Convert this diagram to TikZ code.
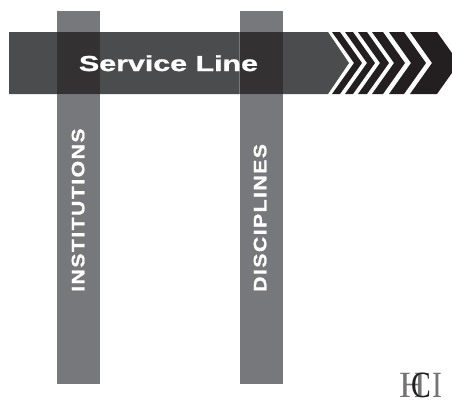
\documentclass[tikz,border=0pt]{standalone}
\usepackage{fontspec}
\newfontfamily\linefont{Liberation Sans Bold}[FakeStretch=1.4,FakeBold=1.2]
\newfontfamily\barfont{Liberation Sans Bold}[FakeStretch=1.18,FakeBold=1,LetterSpace=8]
\newfontfamily\logofont{Liberation Serif}[FakeStretch=0.8]
\newfontfamily\logowidefont{Liberation Serif}
\definecolor{barcol}{HTML}{77787B}
\definecolor{linecol}{HTML}{4B4C4E}
\definecolor{crosscol}{HTML}{333132}
\definecolor{arrowcol}{HTML}{231F20}
\begin{document}
\begin{tikzpicture}[
  x=1pt,
  y=-1pt,
  line join=miter,
  barlabel/.style={
    rotate=90,
    anchor=base west,
    text=white,
    inner sep=0pt,
    font=\barfont\fontsize{18}{18}\selectfont
  },
  logoletter/.style={
    anchor=base,
    inner sep=0pt,
    font=\logofont\fontsize{37}{37}\selectfont
  }
]
  \def\bartop{11}
  \def\barbottom{384}
  \def\linetop{32}
  \def\linemid{63}
  \def\linebottom{94}
  \def\tipwidth{22}

  \useasboundingbox (0,0) rectangle (452,400);

  % Vertical bars
  \fill[barcol] (57,\bartop) rectangle (100,\barbottom);
  \fill[barcol] (240,\bartop) rectangle (283,\barbottom);

  % Horizontal line with notched end
  \fill[linecol]
    (9,\linetop) -- (328,\linetop) -- (349,\linemid)
    -- (328,\linebottom) -- (9,\linebottom) -- cycle;

  % Crossings
  \fill[crosscol] (57,\linetop) rectangle (100,\linebottom);
  \fill[crosscol] (240,\linetop) rectangle (283,\linebottom);
  \draw[barcol,line width=0.6pt] (239.5,\linetop) -- (239.5,\linebottom);

  % Chevrons
  \begin{scope}
    \clip (320,\linetop) rectangle (452,\linebottom);
    \foreach \xa/\xb in {332/340,345/353,358/367,372/383,389/404,410/437} {
      \fill[arrowcol]
        (\xa,\linetop) -- (\xb,\linetop) -- (\xb+\tipwidth,\linemid)
        -- (\xb,\linebottom) -- (\xa,\linebottom)
        -- (\xa+\tipwidth,\linemid) -- cycle;
    }
  \end{scope}

  % Labels
  \node[anchor=base,text=white,inner sep=0pt,font=\linefont\fontsize{21.7}{21.7}\selectfont]
    (service) at (168.5,71) {Service Line};
  \node[barlabel] (institutions) at (84.3,292) {INSTITUTIONS};
  \node[barlabel] (disciplines) at (266.3,292) {DISCIPLINES};

  % Logo
  \node[logoletter,text=black!55,font=\logowidefont\fontsize{37}{37}\selectfont]
    (logoh) at (412.5,397) {H};
  \node[logoletter,text=arrowcol] (logoc) at (421,397) {C};
  \node[logoletter,text=black!55] (logoi) at (437,397) {I};
\end{tikzpicture}
\end{document}
